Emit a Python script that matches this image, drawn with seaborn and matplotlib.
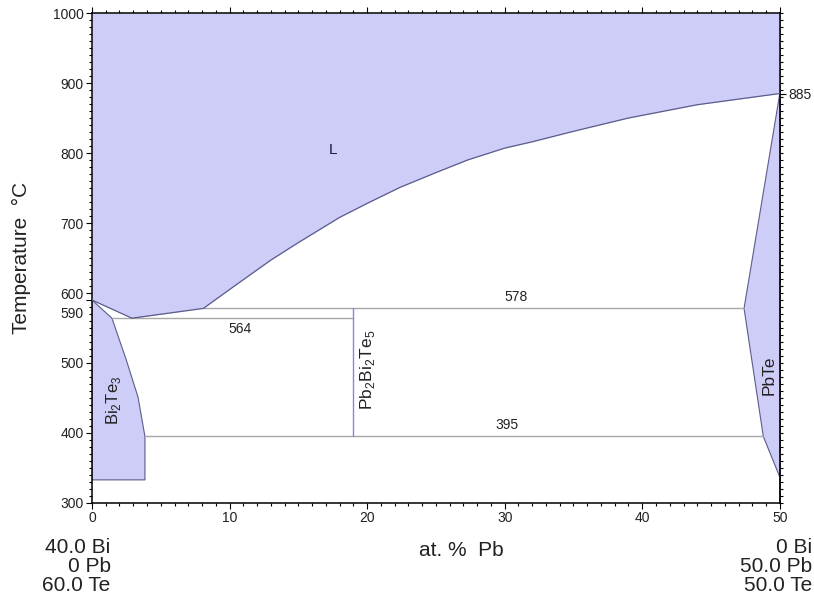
import numpy as np
import pandas as pd
import matplotlib
matplotlib.use('Agg')
import matplotlib.pyplot as plt
import matplotlib.transforms as mtransforms
from matplotlib.ticker import MultipleLocator
import seaborn as sns

# liquidus (at.% Pb, degC)
liq_x = [0, 2.9, 8.1, 10, 13, 15, 18, 20, 22.4, 25, 27.3, 30, 32, 35, 39, 44, 47, 50]
liq_t = [590, 564, 578, 605, 647, 672, 708, 728, 751, 772, 790, 807, 816, 831, 850, 869, 877, 885]

# Bi2Te3 single phase field
bi_x = [0, 0, 1.45, 2.5, 3.35, 3.85, 3.85]
bi_t = [333, 590, 564, 504, 451, 395, 333]

# PbTe single phase field
pb_x = [50, 47.4, 48.8, 50]
pb_t = [885, 578, 395, 337]

# invariant lines
inv_t = [578, 564, 395]
inv_x0 = [8.1, 1.45, 3.85]
inv_x1 = [47.4, 19.0, 48.8]

comp_x = 19.0  # Pb2Bi2Te5
comp_t = [395, 578]

yticks = [300, 400, 500, 590, 600, 700, 800, 900, 1000]
xticks = [0, 10, 20, 30, 40, 50]

sns.set_theme(style='ticks')
plt.rcParams['font.family'] = ['Liberation Sans', 'DejaVu Sans']
plt.rcParams['mathtext.fontset'] = 'custom'
plt.rcParams['mathtext.rm'] = 'Liberation Sans'

fill_c = '#cdcdf7'
edge_c = '#5c5c8c'
line_c = '#a8a8a8'
txt_c = '#222222'

fig = plt.figure(figsize=(8.14, 6.06), dpi=100)
ax = fig.add_axes([0.113, 0.170, 0.845, 0.8085])

# liquid
ax.fill_between(liq_x, liq_t, 1000, color=fill_c, lw=0, zorder=1)
sns.lineplot(x=liq_x, y=liq_t, ax=ax, color=edge_c, lw=0.9, sort=False, zorder=3)

# solid fields
ax.fill(bi_x, bi_t, facecolor=fill_c, edgecolor=edge_c, lw=0.8, zorder=2)
ax.fill(pb_x, pb_t, facecolor=fill_c, edgecolor=edge_c, lw=0.8, zorder=2)

# invariants
for t, a, b in zip(inv_t, inv_x0, inv_x1):
    ax.plot([a, b], [t, t], color=line_c, lw=1.0, zorder=2)
ax.plot([comp_x, comp_x], comp_t, color='#8585e6', lw=1.0, zorder=2)

ax.set_xlim(0, 50)
ax.set_ylim(300, 1000)

# labels inside
ax.text(17.5, 804, 'L', fontsize=11, color='#1a1a40', ha='center', va='center')
ax.text(30.8, 594, '578', fontsize=10, color=txt_c, ha='center', va='center')
ax.text(10.8, 549, '564', fontsize=10, color=txt_c, ha='center', va='center')
ax.text(30.2, 411, '395', fontsize=10, color=txt_c, ha='center', va='center')
ax.text(1.6, 447, r'Bi$_\mathregular{2}$Te$_\mathregular{3}$', fontsize=12,
        color=txt_c, rotation=90, ha='center', va='center')
ax.text(20.0, 490, r'Pb$_\mathregular{2}$Bi$_\mathregular{2}$Te$_\mathregular{5}$',
        fontsize=12.5, color=txt_c, rotation=90, ha='center', va='center')
ax.text(49.25, 483, 'PbTe', fontsize=12.5, color=txt_c, rotation=90,
        ha='center', va='center')

# ticks
ax.set_xticks(xticks, [str(v) for v in xticks])
ax.set_yticks(yticks, [str(v) for v in yticks])
ax.xaxis.set_minor_locator(MultipleLocator(1))
ax.yaxis.set_minor_locator(MultipleLocator(10))
ax.tick_params(which='both', direction='out', color='black', width=0.8,
               labelsize=10, labelcolor=txt_c, top=True, right=False, pad=2)
ax.tick_params(which='major', length=4)
ax.tick_params(which='minor', length=2.5)
for s in ax.spines.values():
    s.set_linewidth(1.1)
    s.set_color('black')

# push the 590 label down a bit so it does not hit 600
lab590 = ax.yaxis.get_major_ticks()[3].label1
lab590.set_transform(lab590.get_transform() +
                     mtransforms.ScaledTranslation(0, -9 / 72, fig.dpi_scale_trans))

sec = ax.secondary_yaxis('right')
sec.set_yticks([885], ['885'])
sec.yaxis.set_minor_locator(MultipleLocator(10))
sec.tick_params(which='both', direction='out', color='black', width=0.8,
                labelsize=10, labelcolor=txt_c, pad=2)
sec.tick_params(which='major', length=4)
sec.tick_params(which='minor', length=2.5)
sec.spines['right'].set_linewidth(1.1)

# axis texts
fig.text(0.026, 0.574, 'Temperature  \u00b0C', rotation=90, fontsize=15,
         color=txt_c, ha='center', va='center')
fig.text(0.567, 0.092, 'at. %  Pb', fontsize=15, color=txt_c, ha='center', va='center')
fig.text(0.136, 0.112, '40.0 Bi\n0 Pb\n60.0 Te', fontsize=15, color=txt_c,
         ha='right', va='top', linespacing=0.98)
fig.text(0.998, 0.112, '0 Bi\n50.0 Pb\n50.0 Te', fontsize=15, color=txt_c,
         ha='right', va='top', linespacing=0.98)

fig.savefig('out.png', dpi=100)
